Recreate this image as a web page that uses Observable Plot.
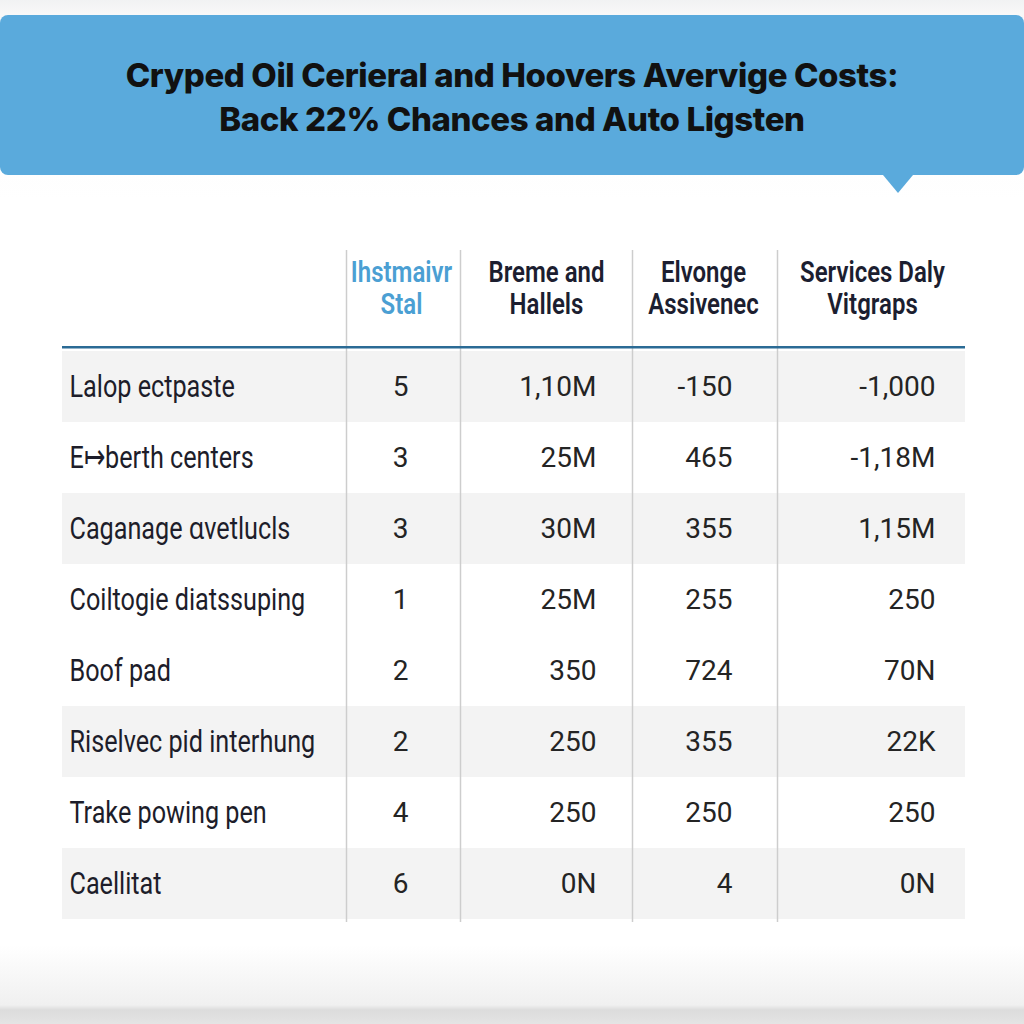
<!DOCTYPE html>
<html>
<head>
<meta charset="utf-8">
<script src="https://cdn.jsdelivr.net/npm/d3@7"></script>
<script src="https://cdn.jsdelivr.net/npm/@observablehq/plot@0.6"></script>
<style>
  html, body { margin: 0; padding: 0; }
  body {
    width: 1024px; height: 1024px; overflow: hidden;
    background: linear-gradient(to bottom, #f1f2f3 0px, #f8f8f8 14px, #ffffff 200px, #ffffff 945px, #f0f0f0 1005px, #dcdcdc 1010px, #e4e4e4 1024px);
  }
  #banner-wrap { height: 200px; position: relative; }
  #banner {
    position: absolute; left: 0; top: 15px; width: 1024px; height: 160px;
    background: #5aaadc; border-radius: 8px; box-sizing: border-box; padding-top: 4px;
    display: flex; flex-direction: column; align-items: center; justify-content: center;
    font-family: Inter, "Open Sans", sans-serif; font-weight: 800; font-size: 33px;
    letter-spacing: -0.4px; color: #111; line-height: 44px; text-align: center;
  }
  #banner::after {
    content: ""; position: absolute; left: 883px; bottom: -18px;
    border-left: 15px solid transparent; border-right: 15px solid transparent;
    border-top: 18px solid #5aaadc;
  }
  #chart svg { display: block; background: transparent; }
</style>
</head>
<body>
<div id="banner-wrap">
  <div id="banner">
    <div>Cryped Oil Cerieral and Hoovers Avervige Costs:</div>
    <div>Back 22% Chances and Auto Ligsten</div>
  </div>
</div>
<div id="chart"></div>
<script>
// ---- data ----
const rowLabels = [
  "Lalop ectpaste",
  "E\u21a6berth centers",
  "Caganage \u0251vetlucls",
  "Coiltogie diatssuping",
  "Boof pad",
  "Riselvec pid interhung",
  "Trake powing pen",
  "Caellitat"
];
const headerLines = [
  ["Ihstmaivr", "Stal"],
  ["Breme and", "Hallels"],
  ["Elvonge", "Assivenec"],
  ["Services Daly", "Vitgraps"]
];
const col1 = ["5", "3", "3", "1", "2", "2", "4", "6"];
const col2 = ["1,10M", "25M", "30M", "25M", "350", "250", "250", "0N"];
const col3 = ["-150", "465", "355", "255", "724", "355", "250", "4"];
const col4 = ["-1,000", "-1,18M", "1,15M", "250", "70N", "22K", "250", "0N"];
const shadedRows = [true, false, true, false, false, true, false, true];

// ---- layout (positions / styles) ----
const L = {
  tableLeft: 62, tableRight: 965,
  dividers: [346, 460, 632, 777],
  labelX: 69,
  headerX: [401, 546, 703, 872],
  headerColor: ["#4b9fd3", "#1c1e30", "#1c1e30", "#1c1e30"],
  valueX: [400, 596, 732, 935],
  valueAnchor: ["middle", "end", "end", "end"],
  rowsTop: 148, rowsBottom: 722,
  condense: 0.8
};
const labelFont = "Roboto, 'Noto Sans', sans-serif";
const numFont = "Roboto, 'Noto Sans', sans-serif";

const rows = rowLabels.map((label, i) => ({
  label, shaded: shadedRows[i], values: [col1[i], col2[i], col3[i], col4[i]]
}));
const headers = headerLines.map((lines, i) => ({
  text: lines.join("\n"), x: L.headerX[i], color: L.headerColor[i]
}));
const bw = (L.rowsBottom - L.rowsTop) / rowLabels.length;

const valueMarks = [0, 1, 2, 3].map(c => Plot.text(rows, {
  x: () => L.valueX[c], y: "label", text: d => d.values[c],
  textAnchor: L.valueAnchor[c], fontSize: 28, fontFamily: numFont, fill: "#242424"
}));

const chart = Plot.plot({
  width: 1024, height: 824,
  marginTop: 50, marginBottom: 102, marginLeft: 0, marginRight: 0,
  x: {type: "linear", domain: [0, 1024], axis: null},
  y: {type: "band", domain: rowLabels, range: [L.rowsTop, L.rowsBottom], padding: 0, axis: null},
  style: {background: "transparent", overflow: "visible"},
  marks: [
    Plot.barX(rows.filter(d => d.shaded), {
      x1: () => L.tableLeft, x2: () => L.tableRight, y: "label", fill: "#f3f3f3"
    }),
    Plot.ruleX(L.dividers, {x: d => d, stroke: "#cdcdcd", strokeWidth: 1.5}),
    Plot.ruleY([rowLabels[0]], {
      y: d => d, x1: () => L.tableLeft, x2: () => L.tableRight,
      stroke: "#2b6b95", strokeWidth: 2.5, dy: -bw / 2 - 4
    }),
    Plot.text(headers, {
      x: "x", frameAnchor: "top", text: "text", dy: 37,
      lineAnchor: "middle", lineHeight: 1.07, className: "cond",
      fill: "color", fontSize: 30, fontWeight: 600, fontFamily: labelFont
    }),
    Plot.text(rows, {
      x: () => L.labelX, y: "label", text: "label", textAnchor: "start",
      className: "cond", fontSize: 31.5, fontFamily: labelFont, fill: "#1d1d2a"
    }),
    ...valueMarks
  ]
});
// condensed look: horizontally squeeze the label/header glyphs around their anchors
d3.select(chart).selectAll(".cond text").each(function() {
  const t = this.getAttribute("transform") || "";
  this.setAttribute("transform", t + ` scale(${L.condense},1)`);
});
document.getElementById("chart").appendChild(chart);
</script>
</body>
</html>
